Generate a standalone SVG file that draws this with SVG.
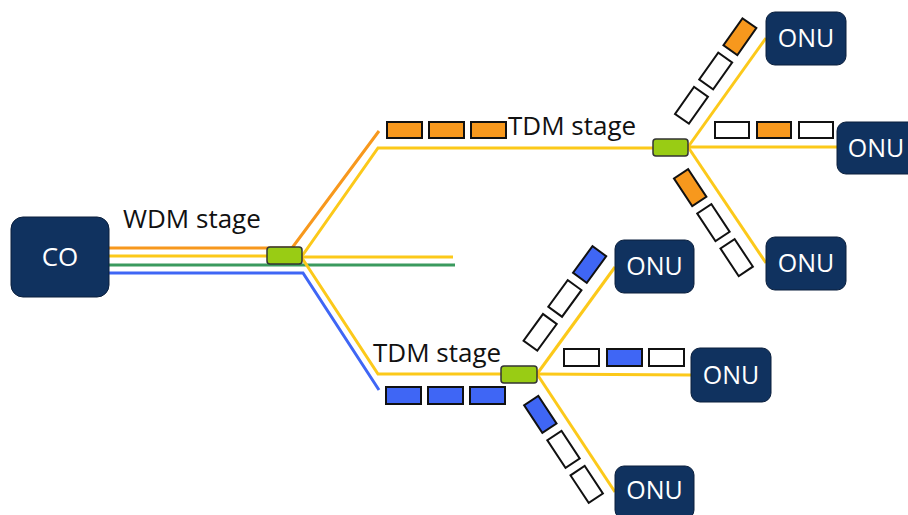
<svg xmlns="http://www.w3.org/2000/svg" width="908" height="515" viewBox="0 0 908 515">
<style>
.node{fill:#10325f;stroke:#0a1f3d;stroke-width:1}
.nt{font-family:"Open Sans","Liberation Sans",sans-serif;font-size:25px;fill:#ffffff;text-anchor:middle}
.lbl{font-family:"Open Sans","Liberation Sans",sans-serif;font-size:26px;fill:#111111}
.y{fill:none;stroke:#fcc91a;stroke-width:3}
.o{fill:none;stroke:#f7981d;stroke-width:3}
.g{fill:none;stroke:#3a9a5e;stroke-width:3}
.b{fill:none;stroke:#3f66f5;stroke-width:3}
.sp{fill:#99cc14;stroke:#333333;stroke-width:1.5}
.pw{fill:#ffffff;stroke:#111111;stroke-width:2}
.po{fill:#f7981d;stroke:#111111;stroke-width:2}
.pb{fill:#3f66f5;stroke:#111111;stroke-width:2}
</style>
<rect width="908" height="515" fill="#ffffff"/>
<g id="connectors">
<polyline class="o" points="109,248 292,248 379,131"/>
<polyline class="y" points="109,256 302,256 378,148 653,148"/>
<polyline class="y" points="302,257 453,257"/>
<polyline class="g" points="109,265 455,265"/>
<polyline class="b" points="109,273 303,273 379,390"/>
<polyline class="y" points="302,258 378,374 501,374"/>
<line class="y" x1="688" y1="147" x2="766" y2="38"/>
<line class="y" x1="688" y1="147" x2="837" y2="147"/>
<line class="y" x1="688" y1="147" x2="766" y2="263"/>
<line class="y" x1="537" y1="374" x2="615" y2="267"/>
<line class="y" x1="537" y1="374" x2="691" y2="375"/>
<line class="y" x1="537" y1="374" x2="615" y2="492"/>
</g>
<g id="CO">
<rect class="node" x="11" y="217" width="98" height="80" rx="12"/>
<text class="nt" x="60" y="266" style="font-size:26px">CO</text>
</g>
<g id="wdm-splitter">
<rect class="sp" x="267" y="247" width="35" height="17" rx="3"/>
</g>
<g id="wdm-label"><text class="lbl" x="123" y="228">WDM stage</text></g>
<g id="tdm-top">
<rect class="sp" x="653" y="139" width="35" height="17" rx="3"/>
<text class="lbl" x="508" y="135">TDM stage</text>
<rect class="po" x="387" y="122" width="35" height="16"/>
<rect class="po" x="429" y="122" width="35" height="16"/>
<rect class="po" x="471" y="122" width="35" height="16"/>
</g>
<g id="tdm-bottom">
<rect class="sp" x="501" y="366" width="36" height="17" rx="3"/>
<text class="lbl" x="373" y="362">TDM stage</text>
<rect class="pb" x="386" y="387" width="35" height="17"/>
<rect class="pb" x="428" y="387" width="35" height="17"/>
<rect class="pb" x="470" y="387" width="35" height="17"/>
</g>
<g id="packets-top">
<g transform="translate(689,147) rotate(-54.8)">
<rect class="pw" x="19" y="-30.5" width="33" height="17"/>
<rect class="pw" x="61" y="-30.5" width="33" height="17"/>
<rect class="po" x="103" y="-30.5" width="33" height="17"/>
</g>
<rect class="pw" x="715" y="122" width="34" height="16"/>
<rect class="po" x="757" y="122" width="34" height="16"/>
<rect class="pw" x="799" y="122" width="34" height="16"/>
<g transform="translate(689,147) rotate(56.4)">
<rect class="po" x="18" y="13" width="33" height="17"/>
<rect class="pw" x="60" y="13" width="33" height="17"/>
<rect class="pw" x="102" y="13" width="33" height="17"/>
</g>
</g>
<g id="packets-bottom">
<g transform="translate(537,374) rotate(-53.9)">
<rect class="pw" x="19" y="-30.5" width="33" height="17"/>
<rect class="pw" x="61" y="-30.5" width="33" height="17"/>
<rect class="pb" x="103" y="-30.5" width="33" height="17"/>
</g>
<rect class="pw" x="564" y="349" width="35" height="17"/>
<rect class="pb" x="607" y="349" width="35" height="17"/>
<rect class="pw" x="649" y="349" width="35" height="17"/>
<g transform="translate(537,374) rotate(56.5)">
<rect class="pb" x="19" y="11" width="33" height="17"/>
<rect class="pw" x="61" y="11" width="33" height="17"/>
<rect class="pw" x="103" y="11" width="33" height="17"/>
</g>
</g>
<g id="onu-1"><rect class="node" x="766" y="12" width="80" height="53" rx="9"/><text class="nt" x="806" y="47">ONU</text></g>
<g id="onu-2"><rect class="node" x="837" y="122" width="80" height="52" rx="9"/><text class="nt" x="876" y="157">ONU</text></g>
<g id="onu-3"><rect class="node" x="766" y="237" width="80" height="53" rx="9"/><text class="nt" x="806" y="272">ONU</text></g>
<g id="onu-4"><rect class="node" x="615" y="240" width="79" height="53" rx="9"/><text class="nt" x="654.5" y="275">ONU</text></g>
<g id="onu-5"><rect class="node" x="691" y="348" width="80" height="54" rx="9"/><text class="nt" x="731" y="384">ONU</text></g>
<g id="onu-6"><rect class="node" x="615" y="466" width="79" height="53" rx="9"/><text class="nt" x="654.5" y="499">ONU</text></g>
</svg>
